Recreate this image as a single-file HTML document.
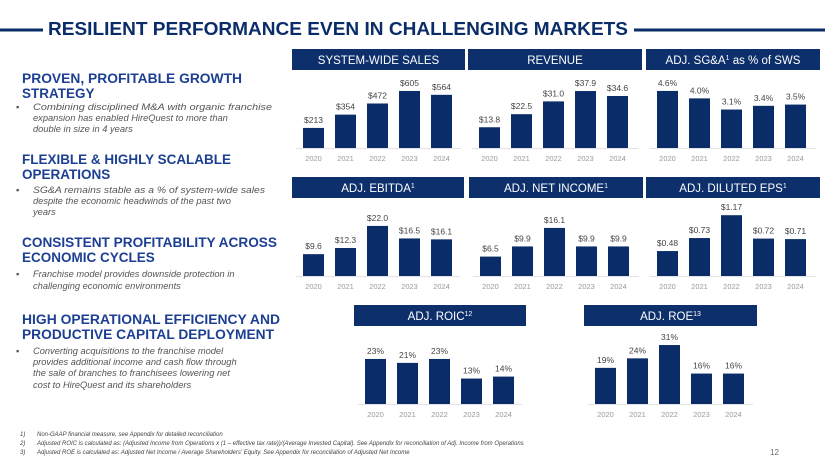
<!DOCTYPE html>
<html><head><meta charset="utf-8"><style>
html,body{margin:0;padding:0;background:#fff}
svg{display:block;font-family:"Liberation Sans",sans-serif}
</style></head><body>
<svg id="s" width="825" height="464" viewBox="0 0 825 464">
<g>
<rect x="0" y="28.5" width="43" height="3" fill="#0a2d69"/>
<text x="48" y="35" font-size="18" font-weight="bold" fill="#0a2d69" textLength="580" lengthAdjust="spacingAndGlyphs">RESILIENT PERFORMANCE EVEN IN CHALLENGING MARKETS</text>
<rect x="634" y="28.5" width="191" height="3" fill="#0a2d69"/>
</g>
<g fill="#1c3f94" font-weight="bold" font-size="13.5">
<text x="22" y="83" textLength="220" lengthAdjust="spacingAndGlyphs">PROVEN, PROFITABLE GROWTH</text>
<text x="22" y="98">STRATEGY</text>
<text x="22" y="164" textLength="209" lengthAdjust="spacingAndGlyphs">FLEXIBLE &amp; HIGHLY SCALABLE</text>
<text x="22" y="179">OPERATIONS</text>
<text x="22" y="247" textLength="255" lengthAdjust="spacingAndGlyphs">CONSISTENT PROFITABILITY ACROSS</text>
<text x="22" y="262">ECONOMIC CYCLES</text>
<text x="22" y="324" textLength="258" lengthAdjust="spacingAndGlyphs">HIGH OPERATIONAL EFFICIENCY AND</text>
<text x="22" y="339" textLength="252" lengthAdjust="spacingAndGlyphs">PRODUCTIVE CAPITAL DEPLOYMENT</text>
</g>
<g fill="#555" font-style="italic" font-size="9.3">
<text x="16" y="110" font-style="normal">▪</text>
<text x="33" y="110" textLength="239" lengthAdjust="spacingAndGlyphs">Combining disciplined M&amp;A with organic franchise</text>
<text x="33" y="121">expansion has enabled HireQuest to more than</text>
<text x="33" y="132">double in size in 4 years</text>
<text x="16" y="193" font-style="normal">▪</text>
<text x="33" y="193" textLength="232" lengthAdjust="spacingAndGlyphs">SG&amp;A remains stable as a % of system-wide sales</text>
<text x="33" y="204">despite the economic headwinds of the past two</text>
<text x="33" y="215">years</text>
<text x="16" y="277" font-style="normal">▪</text>
<text x="33" y="277">Franchise model provides downside protection in</text>
<text x="33" y="289">challenging economic environments</text>
<text x="16" y="354" font-style="normal">▪</text>
<text x="33" y="354">Converting acquisitions to the franchise model</text>
<text x="33" y="365">provides additional income and cash flow through</text>
<text x="33" y="376">the sale of branches to franchisees lowering net</text>
<text x="33" y="388">cost to HireQuest and its shareholders</text>
</g>
<g fill="#444" font-style="italic" font-size="6">
<text x="20" y="436">1)</text><text x="37" y="436">Non-GAAP financial measure, see Appendix for detailed reconciliation</text>
<text x="20" y="445">2)</text><text x="37" y="445">Adjusted ROIC is calculated as: (Adjusted Income from Operations x (1 – effective tax rate))/(Average Invested Capital). See Appendix for reconciliation of Adj. Income from Operations</text>
<text x="20" y="454">3)</text><text x="37" y="454">Adjusted ROE is calculated as: Adjusted Net Income / Average Shareholders' Equity. See Appendix for reconciliation of Adjusted Net Income</text>
</g>
<text x="770" y="455" font-size="8" fill="#666">12</text>
<g id="charts"></g>
</svg>
<script>
const years = ["2020","2021","2022","2023","2024"];
const swsValues = [213, 354, 472, 605, 564];
const swsLabels = ["$213","$354","$472","$605","$564"];
const revValues = [13.8, 22.5, 31.0, 37.9, 34.6];
const revLabels = ["$13.8","$22.5","$31.0","$37.9","$34.6"];
const sgaValues = [4.6, 4.0, 3.1, 3.4, 3.5];
const sgaLabels = ["4.6%","4.0%","3.1%","3.4%","3.5%"];
const ebitdaValues = [9.6, 12.3, 22.0, 16.5, 16.1];
const ebitdaLabels = ["$9.6","$12.3","$22.0","$16.5","$16.1"];
const niValues = [6.5, 9.9, 16.1, 9.9, 9.9];
const niLabels = ["$6.5","$9.9","$16.1","$9.9","$9.9"];
const epsValues = [0.48, 0.73, 1.17, 0.72, 0.71];
const epsLabels = ["$0.48","$0.73","$1.17","$0.72","$0.71"];
const roicValues = [23, 21, 23, 13, 14];
const roicLabels = ["23%","21%","23%","13%","14%"];
const roeValues = [19, 24, 31, 16, 16];
const roeLabels = ["19%","24%","31%","16%","16%"];

const NS = "http://www.w3.org/2000/svg";
const root = document.getElementById('charts');
function mk(tag, attrs, parent){const e=document.createElementNS(NS,tag);for(const k in attrs)e.setAttribute(k,attrs[k]);parent.appendChild(e);return e;}

const panels = [
 {key:"sws", title:"SYSTEM-WIDE SALES", sup:"", x:292, w:173, hy:49, base:148, dmax:700, vals:swsValues, labs:swsLabels},
 {key:"revenue", title:"REVENUE", sup:"", x:468, w:174, hy:49, base:148, dmax:43.9, vals:revValues, labs:revLabels},
 {key:"sga", title:"ADJ. SG&A", sup:"1", tail:" as % of SWS", x:646, w:174, hy:49, base:148, dmax:5.32, vals:sgaValues, labs:sgaLabels},
 {key:"ebitda", title:"ADJ. EBITDA", sup:"1", x:292, w:172, hy:177, base:276, dmax:29, vals:ebitdaValues, labs:ebitdaLabels},
 {key:"net-income", title:"ADJ. NET INCOME", sup:"1", x:469, w:174, hy:177, base:276, dmax:22.1, vals:niValues, labs:niLabels},
 {key:"eps", title:"ADJ. DILUTED EPS", sup:"1", x:646, w:174, hy:177, base:276, dmax:1.27, vals:epsValues, labs:epsLabels},
 {key:"roic", title:"ADJ. ROIC", sup:"1,2", x:354, w:172, hy:305, base:404, dmax:33.7, vals:roicValues, labs:roicLabels},
 {key:"roe", title:"ADJ. ROE", sup:"1,3", x:584, w:173, hy:305, base:404, dmax:34.7, vals:roeValues, labs:roeLabels}
];
const PLOT_H = 66;
panels.forEach(p=>{
  const g = mk('g',{},root);
  
  
  const hdr = mk('rect',{x:p.x,y:p.hy,width:p.w,height:21,fill:'#0d2f6b'},g);
  
  
  const t = mk('text',{x:p.x+p.w/2,y:p.hy+15,'text-anchor':'middle','font-size':'11.5',fill:'#fff'},g);
  
  
  t.textContent = p.title;
  if(p.sup){const s=mk('tspan',{'font-size':'7',dy:'-4'},t);s.textContent=p.sup.replace(',','');}
  if(p.tail){const s2=mk('tspan',{dy:'4'},t);s2.textContent=p.tail;}
  const yScale = v => p.base - v/p.dmax*PLOT_H;
  const xScale = i => p.x + 11 + i*32;
  const ax = mk('line',{x1:p.x+4,x2:p.x+p.w-4,y1:p.base+0.5,y2:p.base+0.5,stroke:'#e2e2e2','stroke-width':1},g);
  
  
  p.vals.forEach((v,i)=>{
    const y = yScale(v);
    const b = mk('rect',{x:xScale(i),y:y,width:21,height:p.base-y,fill:'#0a2d69'},g);
    
    
    const l = mk('text',{x:xScale(i)+10.5,y:y-5,'text-anchor':'middle','font-size':'8.5',fill:'#444'},g);
    
    
    l.textContent = p.labs[i];
    const yl = mk('text',{x:xScale(i)+10.5,y:p.base+13,'text-anchor':'middle','font-size':'7.5',fill:'#999'},g);
    
    
    yl.textContent = years[i];
  });
});
</script>
</body></html>
